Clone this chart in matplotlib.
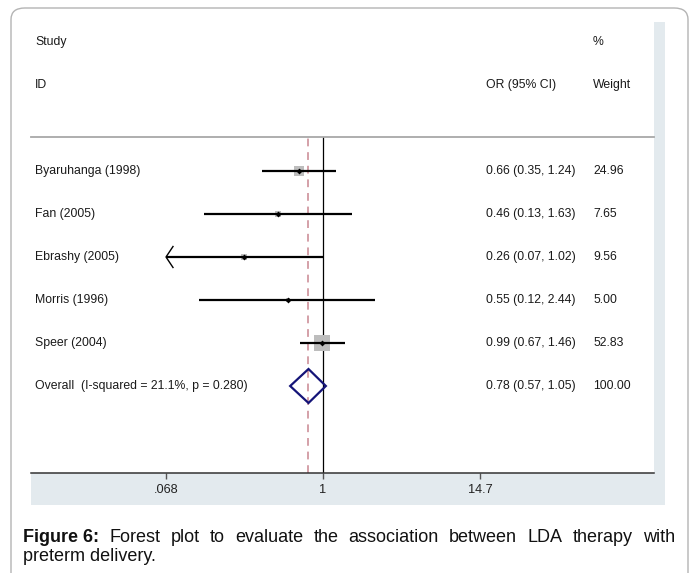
import numpy as np
import matplotlib
matplotlib.use("Agg")
import matplotlib.pyplot as plt
from matplotlib.patches import FancyBboxPatch, Rectangle, Polygon

# ---- data ----
studies = ["Byaruhanga (1998)", "Fan (2005)", "Ebrashy (2005)", "Morris (1996)", "Speer (2004)"]
or_est = [0.66, 0.46, 0.26, 0.55, 0.99]
ci_low = [0.35, 0.13, 0.066, 0.12, 0.67]
ci_high = [1.24, 1.63, 1.02, 2.44, 1.46]
weights = [24.96, 7.65, 9.56, 5.00, 52.83]
overall_label = "Overall  (I-squared = 21.1%, p = 0.280)"
overall_est = 0.78
overall_low = 0.57
overall_high = 1.05
overall_weight = 100.00
tick_values = [0.068, 1, 14.7]
tick_labels = [".068", "1", "14.7"]
caption_bold = "Figure 6:"
caption_rest = "Forest plot to evaluate the association between LDA therapy with"
caption_line2 = "preterm delivery."

font = "Liberation Sans"

W, H = 693, 573
fig = plt.figure(figsize=(W / 100, H / 100), dpi=100)
fig.patch.set_facecolor("white")

def fx(px):
    return px / W

def fy(py):
    return 1 - py / H

# outer rounded frame
frame = FancyBboxPatch((fx(11), fy(590)), fx(688) - fx(11), fy(8) - fy(590),
                       boxstyle="round,pad=0,rounding_size=0.02",
                       transform=fig.transFigure, facecolor="none",
                       edgecolor="#b4b4b4", linewidth=1.0, zorder=-2)
fig.patches.append(frame)

# light graph-region strips
bg = "#e3eaee"
fig.patches.append(Rectangle((fx(654), fy(505)), fx(665) - fx(654), fy(22) - fy(505),
                             transform=fig.transFigure, facecolor=bg, edgecolor="none", zorder=-1))
fig.patches.append(Rectangle((fx(31), fy(505)), fx(665) - fx(31), fy(473) - fy(505),
                             transform=fig.transFigure, facecolor=bg, edgecolor="none", zorder=-1))

# main axes: x in ln(OR)
left_px, right_px, top_px, bot_px = 31, 654, 137, 473
ax = fig.add_axes([fx(left_px), fy(bot_px), fx(right_px) - fx(left_px), fy(top_px) - fy(bot_px)])
ax.set_facecolor("none")
ax.set_zorder(1)
ppu = 58.4  # pixels per ln unit
x1_px = 323
ax.set_xlim((left_px - x1_px) / ppu, (right_px - x1_px) / ppu)
row_px = 43.0
row0_px = 171
ax.set_ylim((bot_px - row0_px) / row_px, (top_px - row0_px) / row_px)

for s in ["left", "right"]:
    ax.spines[s].set_visible(False)
ax.spines["top"].set_color("#a8a8a8")
ax.spines["top"].set_linewidth(1.3)
ax.spines["bottom"].set_color("#333333")
ax.spines["bottom"].set_linewidth(1.1)
ax.set_yticks([])
ax.set_xticks(np.log(tick_values))
ax.set_xticklabels(tick_labels, fontfamily=font, fontsize=9.2, color="#222222")
ax.tick_params(axis="x", direction="out", length=4, width=1, color="#555555", pad=4)

axmin = np.log(tick_values[0])

# reference lines
ax.axvline(0, color="black", linewidth=0.9, zorder=2)
ax.axvline(np.log(overall_est), color="#d4a0a8", linewidth=1.4,
           linestyle=(0, (4, 3)), zorder=1)

max_side_px = 15.7
for i, (e, lo, hi, w) in enumerate(zip(or_est, ci_low, ci_high, weights)):
    side_pt = max_side_px * np.sqrt(w / max(weights)) * 0.72
    ax.plot([np.log(e)], [i], marker="s", markersize=side_pt, color="#bdbdbd",
            markeredgewidth=0, linestyle="none", zorder=3)
    l = np.log(lo)
    arrow = False
    if l < axmin:
        l = axmin
        arrow = True
    ax.plot([l, np.log(hi)], [i, i], color="black", linewidth=1.6, zorder=4,
            solid_capstyle="butt")
    if arrow:
        dx = 7 / ppu
        dy = 10.5 / row_px
        ax.plot([l + dx, l, l + dx], [i - dy, i, i + dy], color="black",
                linewidth=1.0, zorder=4)
    ax.plot([np.log(e)], [i], marker="D", markersize=3, color="black",
            markeredgewidth=0, linestyle="none", zorder=5)

# overall diamond
oi = len(studies)
dh = 17 / row_px
diamond = Polygon([[np.log(overall_low), oi], [np.log(overall_est), oi - dh],
                   [np.log(overall_high), oi], [np.log(overall_est), oi + dh]],
                  closed=True, facecolor="none", edgecolor="#141478", linewidth=1.6, zorder=5)
ax.add_patch(diamond)

# text columns
tkw = dict(fontfamily=font, fontsize=8.8, color="#1a1a1a", va="center", ha="left",
           transform=ax.get_yaxis_transform(), clip_on=False)
def axx(px):
    return (px - left_px) / (right_px - left_px)

study_x, or_x, wt_x = axx(35), axx(486), axx(593)
ax.text(study_x, -3, "Study", **tkw)
ax.text(study_x, -2, "ID", **tkw)
ax.text(or_x, -2, "OR (95% CI)", **tkw)
ax.text(wt_x, -3, "%", **tkw)
ax.text(wt_x, -2, "Weight", **tkw)
for i, (n, e, lo, hi, w) in enumerate(zip(studies, or_est, ci_low, ci_high, weights)):
    ax.text(study_x, i, n, **tkw)
    ax.text(or_x, i, f"{e:.2f} ({lo:.2f}, {hi:.2f})", **tkw)
    ax.text(wt_x, i, f"{w:.2f}", **tkw)
ax.text(study_x, oi, overall_label, **tkw)
ax.text(or_x, oi, f"{overall_est:.2f} ({overall_low:.2f}, {overall_high:.2f})", **tkw)
ax.text(wt_x, oi, f"{overall_weight:.2f}", **tkw)

# caption (justified first line)
renderer = fig.canvas.get_renderer()
cfs = 13
line1_y = fy(542)
line2_y = fy(561)
cx0, cx1 = 23, 675
words = [(caption_bold, "bold")] + [(wd, "normal") for wd in caption_rest.split()]
tmp = []
total_w = 0
for wd, wt in words:
    t = fig.text(0, 0, wd, fontfamily=font, fontsize=cfs, fontweight=wt,
                 va="baseline", color="#111111")
    bb = t.get_window_extent(renderer)
    tmp.append((t, bb.width))
    total_w += bb.width
gap = (cx1 - cx0 - total_w) / (len(words) - 1)
xcur = cx0
for (t, wpx) in tmp:
    t.set_position((fx(xcur), line1_y))
    xcur += wpx + gap
fig.text(fx(cx0), line2_y, caption_line2, fontfamily=font, fontsize=cfs,
         va="baseline", color="#111111")

fig.savefig("out.png", dpi=100, facecolor="white")
